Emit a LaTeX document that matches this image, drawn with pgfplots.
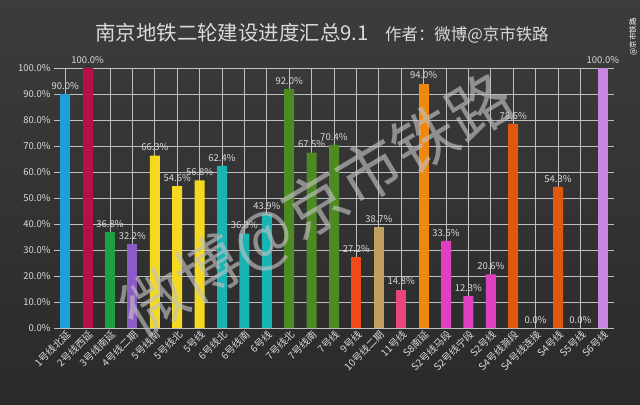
\documentclass[border=0pt]{standalone}
\usepackage{pgfplots}
\pgfplotsset{compat=1.18}
\usepackage{fontspec}
\setmainfont{Noto Sans CJK SC}
\definecolor{bgtop}{HTML}{3C3C3C}
\definecolor{bgbot}{HTML}{2A2A2A}
\definecolor{txt}{HTML}{DADADA}
\definecolor{grid}{HTML}{BEBEBE}
\definecolor{wm}{HTML}{C0C0C0}
\definecolor{c1}{HTML}{1E9FD9}
\definecolor{c2}{HTML}{B5104A}
\definecolor{c3}{HTML}{1CA040}
\definecolor{c4}{HTML}{8B5CC8}
\definecolor{c5}{HTML}{F5D920}
\definecolor{c6}{HTML}{18B3B3}
\definecolor{c7}{HTML}{4E8A22}
\definecolor{c9}{HTML}{F04A1A}
\definecolor{c10}{HTML}{C0A060}
\definecolor{c11}{HTML}{E8457A}
\definecolor{cS8}{HTML}{F0880F}
\definecolor{cS2}{HTML}{E040C0}
\definecolor{cS4}{HTML}{E0570E}
\definecolor{cS6}{HTML}{C888E0}
\begin{document}
\begin{tikzpicture}[x=1bp,y=1bp]
\shade[top color=bgtop, bottom color=bgbot] (0,0) rectangle (640,404);
\useasboundingbox (0,0) rectangle (640,404);
\node[txt, font=\fontsize{20.5}{22}\selectfont] at (322,371) {南京地铁二轮建设进度汇总9.1\hspace{0.8em}{\fontsize{16.5}{18}\selectfont 作者：微博@京市铁路}};
\node[white, rotate=90, font=\fontsize{7.5}{8}\selectfont, anchor=west] at (633,345) {@京市铁路};
\begin{axis}[
  at={(54bp,76bp)}, anchor=south west,
  scale only axis, width=560bp, height=260bp,
  ybar, bar width=10bp,
  ymin=0, ymax=100, xmin=-0.5, xmax=24.5,
  ytick={0,10,...,100},
  yticklabel={\pgfmathprintnumber[fixed,fixed zerofill,precision=1]{\tick}\%},
  yticklabel style={txt, font=\fontsize{9.5}{10}\selectfont},
  /pgf/number format/assume math mode=true,
  xtick={0,...,24},
  xticklabels={1号线北延,2号线西延,3号线南延,4号线二期,5号线南,5号线北,5号线,6号线北,6号线南,6号线,7号线北,7号线南,7号线,9号线,10号线二期,11号线,S8南延,S2号线马段,S2号线宁段,S2号线,S4号线滁段,S4号线连接,S4号线,S5号线,S6号线},
  xticklabel style={txt, rotate=45, anchor=north east, font=\fontsize{10}{11}\selectfont, inner sep=1bp},
  major tick length=0pt,
  axis line style={draw=none},
  ymajorgrids, grid style={grid, line width=0.9bp},
  nodes near coords={\pgfmathprintnumber[fixed,fixed zerofill,precision=1]{\pgfplotspointmeta}\%},
  every node near coord/.append style={txt, font=\fontsize{9.5}{10}\selectfont, yshift=1bp},
  clip=false,
]
\addplot[fill=c1, draw=none, bar shift=0pt] coordinates {(0,90.0)};
\addplot[fill=c2, draw=none, bar shift=0pt] coordinates {(1,100.0)};
\addplot[fill=c3, draw=none, bar shift=0pt] coordinates {(2,36.8)};
\addplot[fill=c4, draw=none, bar shift=0pt] coordinates {(3,32.2)};
\addplot[fill=c5, draw=none, bar shift=0pt] coordinates {(4,66.3) (5,54.6) (6,56.8)};
\addplot[fill=c6, draw=none, bar shift=0pt] coordinates {(7,62.4) (8,36.3) (9,43.9)};
\addplot[fill=c7, draw=none, bar shift=0pt] coordinates {(10,92.0) (11,67.5) (12,70.4)};
\addplot[fill=c9, draw=none, bar shift=0pt] coordinates {(13,27.2)};
\addplot[fill=c10, draw=none, bar shift=0pt] coordinates {(14,38.7)};
\addplot[fill=c11, draw=none, bar shift=0pt] coordinates {(15,14.8)};
\addplot[fill=cS8, draw=none, bar shift=0pt] coordinates {(16,94.0)};
\addplot[fill=cS2, draw=none, bar shift=0pt] coordinates {(17,33.5) (18,12.3) (19,20.6)};
\addplot[fill=cS4, draw=none, bar shift=0pt] coordinates {(20,78.5) (21,0.0) (22,54.3) (23,0.0)};
\addplot[fill=cS6, draw=none, bar shift=0pt] coordinates {(24,100.0)};
\end{axis}
\node[wm, opacity=0.65, rotate=31, font=\fontsize{64}{66}\selectfont] at (318,198) {微博@京市铁路};
\end{tikzpicture}
\end{document}
